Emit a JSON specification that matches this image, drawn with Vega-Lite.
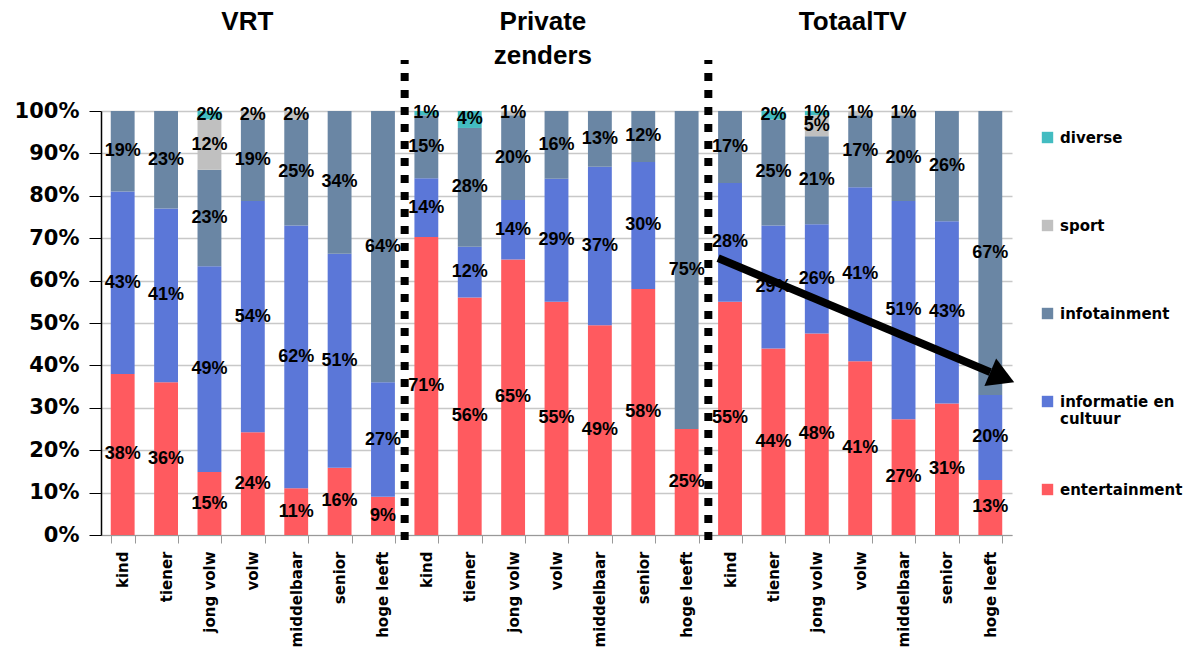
{
  "$schema": "https://vega.github.io/schema/vega-lite/v6.json",
  "width": 911,
  "height": 424,
  "autosize": {"type": "none"},
  "padding": {"left": 101, "top": 111, "right": 182, "bottom": 122},
  "background": "white",
  "config": {"view": {"stroke": null}, "font": "Liberation Sans"},
  "layer": [
    {
      "data": {
        "values": [
          {"bar": "VRT|kind", "entertainment": 0.38, "informatie en cultuur": 0.43, "infotainment": 0.19, "sport": 0, "diverse": 0},
          {"bar": "VRT|tiener", "entertainment": 0.36, "informatie en cultuur": 0.41, "infotainment": 0.23, "sport": 0, "diverse": 0},
          {"bar": "VRT|jong volw", "entertainment": 0.15, "informatie en cultuur": 0.49, "infotainment": 0.23, "sport": 0.12, "diverse": 0.02},
          {"bar": "VRT|volw", "entertainment": 0.24, "informatie en cultuur": 0.54, "infotainment": 0.19, "sport": 0.02, "diverse": 0},
          {"bar": "VRT|middelbaar", "entertainment": 0.11, "informatie en cultuur": 0.62, "infotainment": 0.25, "sport": 0.02, "diverse": 0},
          {"bar": "VRT|senior", "entertainment": 0.16, "informatie en cultuur": 0.51, "infotainment": 0.34, "sport": 0, "diverse": 0},
          {"bar": "VRT|hoge leeft", "entertainment": 0.09, "informatie en cultuur": 0.27, "infotainment": 0.64, "sport": 0, "diverse": 0},
          {"bar": "Private zenders|kind", "entertainment": 0.71, "informatie en cultuur": 0.14, "infotainment": 0.15, "sport": 0, "diverse": 0.01},
          {"bar": "Private zenders|tiener", "entertainment": 0.56, "informatie en cultuur": 0.12, "infotainment": 0.28, "sport": 0, "diverse": 0.04},
          {"bar": "Private zenders|jong volw", "entertainment": 0.65, "informatie en cultuur": 0.14, "infotainment": 0.20, "sport": 0.01, "diverse": 0},
          {"bar": "Private zenders|volw", "entertainment": 0.55, "informatie en cultuur": 0.29, "infotainment": 0.16, "sport": 0, "diverse": 0},
          {"bar": "Private zenders|middelbaar", "entertainment": 0.49, "informatie en cultuur": 0.37, "infotainment": 0.13, "sport": 0, "diverse": 0},
          {"bar": "Private zenders|senior", "entertainment": 0.58, "informatie en cultuur": 0.30, "infotainment": 0.12, "sport": 0, "diverse": 0},
          {"bar": "Private zenders|hoge leeft", "entertainment": 0.25, "informatie en cultuur": 0, "infotainment": 0.75, "sport": 0, "diverse": 0},
          {"bar": "TotaalTV|kind", "entertainment": 0.55, "informatie en cultuur": 0.28, "infotainment": 0.17, "sport": 0, "diverse": 0},
          {"bar": "TotaalTV|tiener", "entertainment": 0.44, "informatie en cultuur": 0.29, "infotainment": 0.25, "sport": 0, "diverse": 0.02},
          {"bar": "TotaalTV|jong volw", "entertainment": 0.48, "informatie en cultuur": 0.26, "infotainment": 0.21, "sport": 0.05, "diverse": 0.01},
          {"bar": "TotaalTV|volw", "entertainment": 0.41, "informatie en cultuur": 0.41, "infotainment": 0.17, "sport": 0.01, "diverse": 0},
          {"bar": "TotaalTV|middelbaar", "entertainment": 0.27, "informatie en cultuur": 0.51, "infotainment": 0.20, "sport": 0.01, "diverse": 0},
          {"bar": "TotaalTV|senior", "entertainment": 0.31, "informatie en cultuur": 0.43, "infotainment": 0.26, "sport": 0, "diverse": 0},
          {"bar": "TotaalTV|hoge leeft", "entertainment": 0.13, "informatie en cultuur": 0.20, "infotainment": 0.67, "sport": 0, "diverse": 0}
        ]
      },
      "transform": [
        {"fold": ["entertainment", "informatie en cultuur", "infotainment", "sport", "diverse"], "as": ["cat", "v"]},
        {"stack": "v", "groupby": ["bar"], "offset": "normalize", "as": ["y0", "y1"]}
      ],
      "layer": [
        {
          "mark": {"type": "bar"},
          "encoding": {
            "x": {
              "field": "bar", "type": "nominal", "sort": null,
              "scale": {
                "type": "band", "paddingInner": 0.45, "paddingOuter": 0.225,
                "domain": ["VRT|kind", "VRT|tiener", "VRT|jong volw", "VRT|volw", "VRT|middelbaar", "VRT|senior", "VRT|hoge leeft",
                  "Private zenders|kind", "Private zenders|tiener", "Private zenders|jong volw", "Private zenders|volw", "Private zenders|middelbaar", "Private zenders|senior", "Private zenders|hoge leeft",
                  "TotaalTV|kind", "TotaalTV|tiener", "TotaalTV|jong volw", "TotaalTV|volw", "TotaalTV|middelbaar", "TotaalTV|senior", "TotaalTV|hoge leeft"]
              },
              "axis": {
                "title": null, "labelExpr": "split(datum.value, '|')[1]", "labelAngle": -90,
                "labelAlign": "right", "labelBaseline": "middle", "labelFont": "DejaVu Sans",
                "labelFontWeight": "bold", "labelFontSize": 15, "labelColor": "black", "labelPadding": 8,
                "tickBand": "extent", "tickColor": "#999999", "tickSize": 8, "domainColor": "#999999", "grid": false
              }
            },
            "y": {
              "field": "y1", "type": "quantitative",
              "scale": {"domain": [0, 1], "nice": false, "zero": false},
              "axis": {
                "title": null, "format": ".0%", "values": [0, 0.1, 0.2, 0.3, 0.4, 0.5, 0.6, 0.7, 0.8, 0.9, 1],
                "labelFont": "DejaVu Sans", "labelFontSize": 21, "labelFontWeight": "bold", "labelColor": "black",
                "labelPadding": 10, "domainColor": "black", "domainWidth": 1.5, "tickColor": "black", "tickSize": 12,
                "grid": true, "gridColor": "#c8c8c8", "gridWidth": 1.5
              }
            },
            "y2": {"field": "y0"},
            "color": {
              "field": "cat", "type": "nominal",
              "scale": {
                "domain": ["diverse", "sport", "infotainment", "informatie en cultuur", "entertainment"],
                "range": ["#43BCC1", "#C0C0C0", "#6A86A4", "#5B77D8", "#FF5A5F"]
              },
              "legend": {
                "title": null, "orient": "none", "legendX": 939, "legendY": 19,
                "symbolType": "square", "symbolSize": 130, "symbolStrokeWidth": 0,
                "labelFont": "DejaVu Sans", "labelFontWeight": "bold", "labelFontSize": 15, "labelColor": "black",
                "labelOffset": 5, "labelLimit": 200, "rowPadding": 55, "gridAlign": "all",
                "labelExpr": "datum.label == 'informatie en cultuur' ? ['informatie en', 'cultuur'] : datum.label"
              }
            }
          }
        },
        {
          "transform": [
            {"filter": "datum.v > 0"},
            {"fold": ["y0", "y1"], "as": ["edge", "pos"]},
            {"aggregate": [{"op": "mean", "field": "pos", "as": "mid"}], "groupby": ["bar", "cat", "v"]}
          ],
          "mark": {"type": "text", "font": "Liberation Sans", "fontWeight": "bold", "fontSize": 18, "color": "black", "baseline": "middle", "align": "center"},
          "encoding": {
            "x": {"field": "bar", "type": "nominal", "sort": null},
            "y": {"field": "mid", "type": "quantitative"},
            "text": {"field": "v", "type": "quantitative", "format": ".0%"}
          }
        }
      ]
    },
    {
      "data": {"values": [{"after": "VRT|hoge leeft"}, {"after": "Private zenders|hoge leeft"}]},
      "mark": {"type": "rule", "color": "black", "strokeWidth": 8, "strokeDash": [8, 9], "strokeCap": "butt"},
      "encoding": {
        "x": {"field": "after", "type": "nominal", "bandPosition": 1.409},
        "y": {"datum": -0.012, "type": "quantitative"},
        "y2": {"datum": 1.12}
      }
    },
    {
      "data": {"values": [{}]},
      "mark": {"type": "rule", "color": "black", "strokeWidth": 8},
      "encoding": {
        "x": {"datum": "TotaalTV|kind", "type": "nominal", "bandPosition": 0},
        "y": {"datum": 0.653, "type": "quantitative"},
        "x2": {"datum": "TotaalTV|hoge leeft", "bandPosition": 0.5},
        "y2": {"datum": 0.384}
      }
    },
    {
      "data": {"values": [{}]},
      "mark": {"type": "point", "shape": "triangle-right", "filled": true, "color": "black", "opacity": 1, "size": 900, "angle": 23},
      "encoding": {
        "x": {"datum": "TotaalTV|hoge leeft", "type": "nominal", "bandPosition": 1.0},
        "y": {"datum": 0.372, "type": "quantitative"}
      }
    },
    {
      "data": {"values": [{}]},
      "mark": {"type": "text", "text": "VRT", "font": "Liberation Sans", "fontSize": 26, "fontWeight": "bold", "baseline": "alphabetic", "align": "center", "color": "black"},
      "encoding": {
        "x": {"datum": "VRT|volw", "type": "nominal", "bandPosition": 0.27},
        "y": {"datum": 1.192, "type": "quantitative"}
      }
    },
    {
      "data": {"values": [{}]},
      "mark": {"type": "text", "text": ["Private", "zenders"], "lineHeight": 34, "font": "Liberation Sans", "fontSize": 26, "fontWeight": "bold", "baseline": "alphabetic", "align": "center", "color": "black"},
      "encoding": {
        "x": {"datum": "Private zenders|volw", "type": "nominal", "bandPosition": -0.07},
        "y": {"datum": 1.192, "type": "quantitative"}
      }
    },
    {
      "data": {"values": [{}]},
      "mark": {"type": "text", "text": "TotaalTV", "font": "Liberation Sans", "fontSize": 26, "fontWeight": "bold", "baseline": "alphabetic", "align": "center", "color": "black"},
      "encoding": {
        "x": {"datum": "TotaalTV|volw", "type": "nominal", "bandPosition": 0.19},
        "y": {"datum": 1.192, "type": "quantitative"}
      }
    }
  ]
}
